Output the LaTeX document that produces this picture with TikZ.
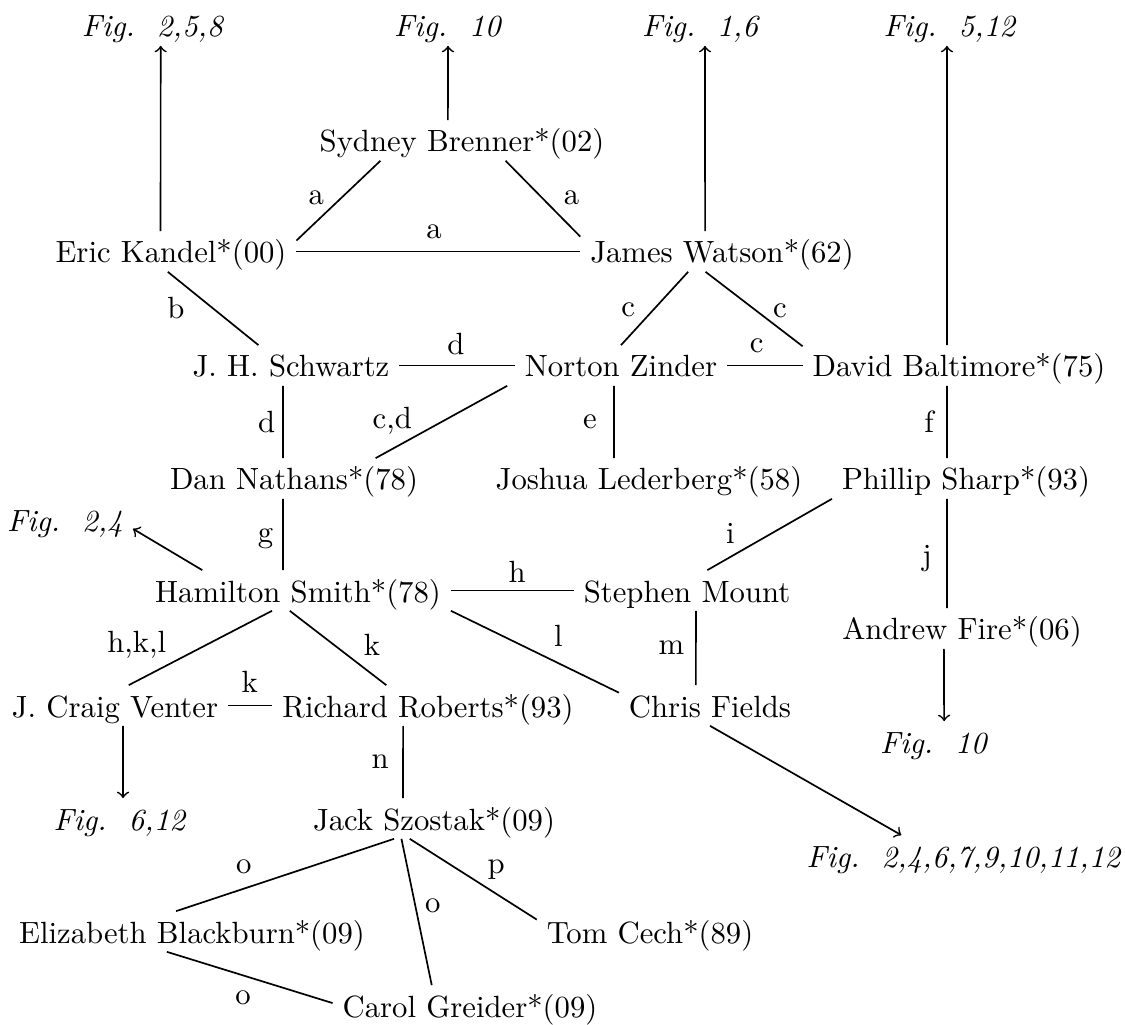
\documentclass[tikz,border=0pt]{standalone}
\usepackage{tikz}
\newcommand{\figs}[1]{\textit{Fig.~~#1}}

\begin{document}
\begin{tikzpicture}[x=0.3257pt, y=-0.3257pt, line width=0.55pt,
    person/.style={anchor=base, inner xsep=3pt, inner ysep=2.6pt, text height=7.5pt, text depth=0pt},
    lbl/.style={inner sep=0pt}]
        \useasboundingbox (0,0) rectangle (1125,1025);

        % Rimandi alle figure
        \node[person] (f258) at (153,37) {\figs{2,5,8}};
        \node[person] (f10a) at (448,37) {\figs{10}};
        \node[person] (f16) at (701,37) {\figs{1,6}};
        \node[person] (f512) at (950,37) {\figs{5,12}};
        \node[person] (f24) at (65,532) {\figs{2,4}};
        \node[person] (f10b) at (934,753) {\figs{10}};
        \node[person] (f612) at (120,830) {\figs{6,12}};
        \node[person] (fmany) at (964,867) {\figs{2,4,6,7,9,10,11,12}};

        % Persone
        \node[person] (sydney) at (462,152) {Sydney Brenner*(02)};
        \node[person] (kandel) at (171,263) {Eric Kandel*(00)};
        \node[person] (watson) at (722,263) {James Watson*(62)};
        \node[person] (schwartz) at (291,377) {J. H. Schwartz};
        \node[person] (zinder) at (621,377) {Norton Zinder};
        \node[person] (baltimore) at (959,377) {David Baltimore*(75)};
        \node[person] (nathans) at (294,490) {Dan Nathans*(78)};
        \node[person] (lederberg) at (649,490) {Joshua Lederberg*(58)};
        \node[person] (sharp) at (966,490) {Phillip Sharp*(93)};
        \node[person] (smith) at (298,602) {Hamilton Smith*(78)};
        \node[person] (mount) at (687,602) {Stephen Mount};
        \node[person] (fire) at (962,640) {Andrew Fire*(06)};
        \node[person] (venter) at (115,717) {J. Craig Venter};
        \node[person] (roberts) at (428,717) {Richard Roberts*(93)};
        \node[person] (fields) at (710,717) {Chris Fields};
        \node[person] (szostak) at (434,830) {Jack Szostak*(09)};
        \node[person] (blackburn) at (192,943) {Elizabeth Blackburn*(09)};
        \node[person] (cech) at (650,943) {Tom Cech*(89)};
        \node[person] (greider) at (470,1017) {Carol Greider*(09)};

        % Frecce verso le figure
        \draw[->] ([xshift=-3.4pt]kandel.north) -- ([xshift=2.5pt]f258.south);
        \draw[->] ([xshift=-4.6pt]sydney.north) -- (f10a.south);
        \draw[->] ([xshift=-5.5pt]watson.north) -- ([xshift=1.3pt]f16.south);
        \draw[->] ([xshift=-3.9pt]baltimore.north) -- ([xshift=-1pt]f512.south);
        \draw[->] (smith.168) -- (f24.353);
        \draw[->] ([xshift=-5.9pt]fire.south) -- ([xshift=3.3pt]f10b.north);
        \draw[->] ([xshift=2.6pt]venter.south) -- ([xshift=1pt]f612.north);
        \draw[->] (fields.south) -- (fmany.162);

        % Collegamenti
        \draw (kandel.5) -- node[lbl, pos=0.54, left=5.5pt] (la1) {a} (sydney.194);
        \draw (sydney.335) -- node[lbl, pos=0.49, right=6.8pt] (la2) {a} (watson.174);
        \draw (kandel.east) -- node[lbl, pos=0.485, above=3.7pt] (la3) {a} (watson.west);
        \draw (kandel.261) -- node[lbl, pos=0.49, left=8.8pt] (lb) {b} (schwartz.148);
        \draw (schwartz.east) -- node[lbl, pos=0.49, above=3.2pt] (ld1) {d} (zinder.west);
        \draw ([xshift=-2.6pt]schwartz.south) -- node[lbl, midway, left=2.3pt] (ld2) {d} ([xshift=-3.6pt]nathans.north);
        \draw ([xshift=-2.5pt]zinder.south west) -- node[lbl, pos=0.48, left=10.2pt] (lcd) {c,d} (nathans.14);
        \draw ([xshift=-2.3pt]zinder.south) -- node[lbl, midway, left=5.3pt] (le) {e} ([xshift=-11.4pt]lederberg.north);
        \draw (watson.211) -- node[lbl, pos=0.52, left=5.7pt] (lc1) {c} (zinder.north);
        \draw (watson.231) -- node[lbl, pos=0.52, right=5.3pt] (lc2) {c} (baltimore.173);
        \draw (zinder.east) -- node[lbl, pos=0.39, above=3.7pt] (lc3) {c} (baltimore.west);
        \draw ([xshift=-3.9pt]baltimore.south) -- node[lbl, midway, left=4pt] (lf) {f} ([xshift=-6.2pt]sharp.north);
        \draw ([xshift=-3.6pt]nathans.south) -- node[lbl, pos=0.56, left=2.9pt] (lg) {g} ([xshift=-4.9pt]smith.north);
        \draw (smith.east) -- node[lbl, pos=0.54, above=2.2pt] (lh) {h} (mount.west);
        \draw (sharp.south west) -- node[lbl, pos=0.48, left=11.9pt] (li) {i} (mount.45);
        \draw ([xshift=-6.2pt]sharp.south) -- node[lbl, pos=0.55, left=4.7pt] (lj) {j} ([xshift=-4.9pt]fire.north);
        \draw (smith.218) -- node[lbl, pos=0.46, left=12.7pt] (lhkl) {h,k,l} (venter.56);
        \draw (smith.248) -- node[lbl, pos=0.46, right=9.4pt] (lk1) {k} (roberts.154);
        \draw (venter.east) -- node[lbl, pos=0.49, above=3.9pt] (lk2) {k} (roberts.west);
        \draw (smith.south east) -- node[lbl, pos=0.64, above=5.2pt] (ll) {l} (fields.172);
        \draw ([xshift=2.9pt]mount.south) -- node[lbl, midway, left=3.5pt] (lm) {m} ([xshift=-4.6pt]fields.north);
        \draw ([xshift=-8.1pt]roberts.south) -- node[lbl, midway, left=4.4pt] (ln) {n} ([xshift=-10.1pt]szostak.north);
        \draw (szostak.207) -- node[lbl, pos=0.69, above=4.5pt] (lo1) {o} (blackburn.128);
        \draw (szostak.212) -- node[lbl, pos=0.46, right=2.9pt] (lo2) {o} (greider.152);
        \draw (szostak.220) -- node[lbl, pos=0.68, above=4.3pt] (lp) {p} (cech.174);
        \draw (blackburn.219) -- node[lbl, pos=0.46, below=4.6pt] (lo3) {o} (greider.179);
    \end{tikzpicture}
\end{document}
